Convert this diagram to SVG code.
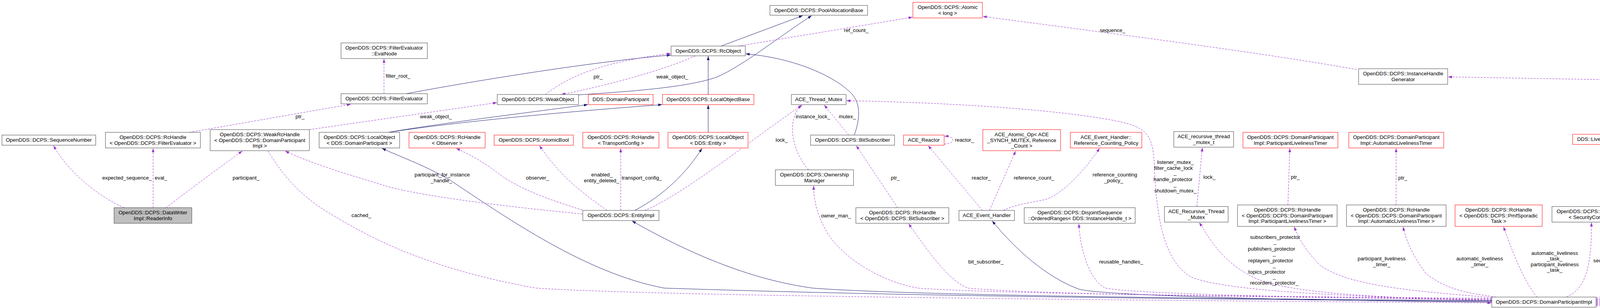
<svg xmlns="http://www.w3.org/2000/svg" width="6232" height="789" viewBox="0 0 6232 789">
<style>
text{font-family:"Liberation Sans",Arial,Helvetica,sans-serif;font-size:13.33px;fill:#000;text-anchor:middle}
.n rect{fill:#fff;stroke:#404040;stroke-width:1}
.r rect{stroke:#ff0000}
.g rect{fill:#bfbfbf}
.d{fill:none;stroke:#9a32cd;stroke-width:1;stroke-dasharray:5,3;marker-end:url(#ad)}
.s{fill:none;stroke:#191970;stroke-width:1;marker-end:url(#as)}
</style>
<defs>
<marker id="ad" viewBox="0 0 10 7" refX="10" refY="3.5" markerWidth="10" markerHeight="7" markerUnits="userSpaceOnUse" orient="auto"><path d="M0,0L10,3.5L0,7z" fill="#9a32cd"/></marker>
<marker id="as" viewBox="0 0 10 7" refX="10" refY="3.5" markerWidth="10" markerHeight="7" markerUnits="userSpaceOnUse" orient="auto"><path d="M0,0L10,3.5L0,7z" fill="#191970"/></marker>
</defs>
<rect width="6232" height="789" fill="#fff"/>
<g id="edges">
<path class="d" d="M318,532C265,510 180,450 137,373"/>
<path class="d" d="M392,532L392,380"/>
<path class="d" d="M425,532C480,490 560,430 620,387"/>
<path class="d" d="M485,339L898,267"/>
<path class="d" d="M983,240L983,151"/>
<path class="s" d="M1040,240C1200,210 1500,160 1717,141"/>
<path class="d" d="M792,332L1272,263"/>
<path class="d" d="M1396,242C1450,200 1530,160 1717,137"/>
<path class="d" d="M1780,143C1700,180 1550,220 1437,242"/>
<path class="s" d="M1481,243C1600,235 1760,225 1836,197C1900,170 2000,90 2078,40"/>
<path class="s" d="M1846,118L2055,40"/>
<path class="d" d="M1890,118L2336,44"/>
<path class="s" d="M1813,242L1813,144"/>
<path class="s" d="M1813,339L1813,269"/>
<path class="s" d="M995,339C1100,320 1300,295 1505,268"/>
<path class="s" d="M995,339C1150,315 1400,290 1695,268"/>
<path class="d" d="M1491,538C1400,510 1320,480 1270,440C1230,410 1200,395 1168,380"/>
<path class="d" d="M1554,539C1500,500 1440,460 1381,373"/>
<path class="d" d="M1589,539L1589,380"/>
<path class="s" d="M1625,539C1700,500 1760,440 1797,380"/>
<path class="d" d="M1650,539C1750,500 1960,330 2054,269"/>
<path class="d" d="M2070,435C2030,390 2010,310 2052,269"/>
<path class="d" d="M2173,346L2110,269"/>
<path class="s" d="M2187,346C2200,310 2205,270 2183,243C2150,205 2050,150 1909,138"/>
<path class="d" d="M2298,532L2192,373"/>
<path class="d" d="M2515,539L2376,373"/>
<path class="d" d="M2417,369C2446,368 2446,348 2418,349"/>
<path class="d" d="M2533,539L2600,387"/>
<path class="d" d="M2568,539C2610,520 2640,520 2680,510C2730,490 2780,430 2815,380"/>
<path class="d" d="M3064,529L3078,378"/>
<path class="d" d="M3297,525L3302,380"/>
<path class="d" d="M3574,525L3574,380"/>
<path class="d" d="M4529,539C4480,520 4420,515 4380,515C4300,515 4250,500 4200,460C4160,430 4140,400 4126,371"/>
<path class="d" d="M4530,539C4480,510 4440,460 4330,371"/>
<path class="d" d="M4553,539C4530,480 4518,420 4518,380"/>
<path class="d" d="M4387,560C4412,560 4412,535 4388,536"/>
<path class="d" d="M3473,178C3200,130 2800,80 2516,42"/>
<path class="d" d="M4086,766C4300,755 4620,750 4640,735C4670,700 4655,600 4654,480L4654,300C4650,260 4500,225 4160,205L3707,197"/>
<path class="d" d="M3819,770C3500,760 3150,750 3050,710C2980,670 2960,560 2955,420C2950,330 2930,320 2800,300C2600,270 2300,260 2167,258"/>
<path class="d" d="M3819,770C3400,760 3250,740 3190,700C3120,660 3090,600 3070,570"/>
<path class="d" d="M3819,762C3600,745 3450,730 3380,680C3340,640 3325,610 3313,581"/>
<path class="d" d="M3830,761C3750,750 3700,740 3650,700C3620,660 3600,620 3592,581"/>
<path class="d" d="M3935,761C3900,720 3870,640 3849,581"/>
<path class="d" d="M4010,761C4060,740 4075,680 4074,570"/>
<path class="d" d="M4086,763C4180,745 4230,720 4250,680C4265,640 4275,600 4280,570"/>
<path class="d" d="M4086,767C4300,755 4400,745 4420,730C4460,680 4520,610 4545,566"/>
<path class="d" d="M4086,769C4500,760 4680,750 4710,730C4740,690 4765,620 4781,566"/>
<path class="d" d="M4086,771C4600,765 4780,740 4820,720C4880,680 4950,620 4985,573"/>
<path class="d" d="M4086,773C4700,765 5050,750 5100,735C5140,720 5147,690 5147,640C5147,560 5180,490 5239,371"/>
<path class="d" d="M4086,775C4800,765 5130,750 5170,735C5220,710 5260,630 5283,564"/>
<path class="d" d="M4086,777C4900,770 5390,750 5420,738C5460,720 5490,640 5503,573"/>
<path class="d" d="M4086,779C5000,770 5560,755 5590,740C5640,710 5690,620 5717,566"/>
<path class="d" d="M4086,781C5100,772 5820,760 5840,740C5880,700 5895,640 5903,581"/>
<path class="d" d="M4086,783C5200,775 5930,765 5970,742C6030,710 6080,640 6108,573"/>
<path class="d" d="M5480,532L5272,371"/>
<path class="s" d="M3819,770C3000,765 2300,755 2080,738C1950,720 1800,670 1618,566"/>
<path class="s" d="M3819,772C3000,766 2300,758 1700,738C1500,700 1300,560 1150,460C1080,420 1020,400 978,380"/>
<path class="s" d="M3819,774C3200,768 2800,755 2760,740C2680,710 2600,640 2540,566"/>
<path class="d" d="M686,387C720,440 760,500 860,556C950,610 1100,690 1372,738C1700,760 3000,770 3818,776"/>
<path class="d" d="M1491,548C1300,530 1100,505 1000,480C900,450 800,420 730,387"/>
<path class="d" d="M3819,764C3000,758 2500,750 2350,738C2250,720 2160,660 2120,600C2090,550 2083,510 2083,476"/>
<path class="d" d="M3819,766C3000,760 2600,750 2478,738C2430,720 2380,650 2326,573"/>
<path class="d" d="M3819,768C3300,762 2900,752 2830,738C2790,720 2765,640 2762,573"/>
</g>
<g id="labels">
<text x="325" y="460">expected_sequence_</text>
<text x="412" y="460">eval_</text>
<text x="630" y="460">participant_</text>
<text x="768" y="303">ptr_</text>
<text x="1019" y="199">filter_root_</text>
<text x="925" y="556">cached_</text>
<text x="1531" y="201">ptr_</text>
<text x="1721" y="201">weak_object_</text>
<text x="1116" y="303">weak_object_</text>
<text x="1132" y="452">participant_for_instance</text>
<text x="1130" y="467">_handle_</text>
<text x="1376" y="460">observer_</text>
<text x="1541" y="452">enabled_</text>
<text x="1540" y="467">entity_deleted_</text>
<text x="1643" y="460">transport_config_</text>
<text x="2001" y="363">lock_</text>
<text x="2081" y="303">instance_lock_</text>
<text x="2169" y="303">mutex_</text>
<text x="2292" y="460">ptr_</text>
<text x="2140" y="557">owner_man_</text>
<text x="2192" y="82">ref_count_</text>
<text x="2848" y="82">sequence_</text>
<text x="2469" y="363">reactor_</text>
<text x="2512" y="460">reactor_</text>
<text x="2647" y="460">reference_count_</text>
<text x="2854" y="452">reference_counting</text>
<text x="2851" y="467">_policy_</text>
<text x="2524" y="675">bit_subscriber_</text>
<text x="2870" y="675">reusable_handles_</text>
<text x="3009" y="420">listener_mutex_</text>
<text x="3004" y="435">filter_cache_lock</text>
<text x="3008" y="447">_</text>
<text x="3003" y="464">handle_protector</text>
<text x="3008" y="477">_</text>
<text x="3009" y="493">shutdown_mutex_</text>
<text x="3096" y="458">lock_</text>
<text x="3264" y="612">subscribers_protector</text>
<text x="3264" y="624">_</text>
<text x="3255" y="642">publishers_protector</text>
<text x="3262" y="654">_</text>
<text x="3253" y="672">replayers_protector</text>
<text x="3262" y="684">_</text>
<text x="3243" y="701">topics_protector</text>
<text x="3262" y="713">_</text>
<text x="3262" y="729">recorders_protector_</text>
<text x="3316" y="458">ptr_</text>
<text x="3591" y="460">ptr_</text>
<text x="3537" y="667">participant_liveliness</text>
<text x="3537" y="682">_timer_</text>
<text x="3788" y="667">automatic_liveliness</text>
<text x="3788" y="682">_timer_</text>
<text x="3980" y="653">automatic_liveliness</text>
<text x="3980" y="667">_task_</text>
<text x="3980" y="682">participant_liveliness</text>
<text x="3980" y="696">_task_</text>
<text x="4127" y="672">security_config_</text>
<text x="4345" y="672">last_liveliness_activity_</text>
<text x="4330" y="458">liveliness</text>
<text x="4486" y="460">reliability</text>
<text x="4587" y="460">transport_priority</text>
<text x="4447" y="549">max_value</text>
<text x="4444" y="564">zero_value</text>
<text x="4719" y="363">participant_handles_</text>
<text x="4578" y="675">default_topic_qos_</text>
<text x="4786" y="675">qos_</text>
<text x="5034" y="675">type_lookup_service_</text>
<text x="5187" y="553">dp_id_</text>
<text x="5347" y="672">default_subscriber_qos_</text>
<text x="5462" y="460">base_</text>
<text x="5540" y="675">pub_id_gen_</text>
<text x="5770" y="675">default_publisher_qos_</text>
<text x="5931" y="675">monitor_</text>
<text x="6155" y="667">handle_waiters_</text>
<text x="6154" y="682">shutdown_condition_</text>
</g>
<g id="n1" class="n"><rect x="5" y="346" width="240" height="26"/><text x="125" y="363">OpenDDS::DCPS::SequenceNumber</text></g>
<g id="n2" class="n"><rect x="270" y="339" width="243" height="40"/><text x="391.5" y="356">OpenDDS::DCPS::RcHandle</text><text x="391.5" y="370.7">&lt; OpenDDS::DCPS::FilterEvaluator &gt;</text></g>
<g id="n3" class="n"><rect x="538" y="332" width="254" height="54"/><text x="665" y="349">OpenDDS::DCPS::WeakRcHandle</text><text x="665" y="363.7">&lt; OpenDDS::DCPS::DomainParticipant</text><text x="665" y="378.4">Impl &gt;</text></g>
<g id="n4" class="n"><rect x="817" y="339" width="206" height="40"/><text x="920" y="356">OpenDDS::DCPS::LocalObject</text><text x="920" y="370.7">&lt; DDS::DomainParticipant &gt;</text></g>
<g id="n5" class="n g"><rect x="292" y="532" width="199" height="40"/><text x="391.5" y="549">OpenDDS::DCPS::DataWriter</text><text x="391.5" y="563.7">Impl::ReaderInfo</text></g>
<g id="n6" class="n"><rect x="873" y="110" width="221" height="40"/><text x="983.5" y="127">OpenDDS::DCPS::FilterEvaluator</text><text x="983.5" y="141.7">::EvalNode</text></g>
<g id="n7" class="n"><rect x="873" y="240" width="221" height="26"/><text x="983.5" y="257">OpenDDS::DCPS::FilterEvaluator</text></g>
<g id="n8" class="n r"><rect x="1047" y="339" width="195" height="40"/><text x="1144.5" y="356">OpenDDS::DCPS::RcHandle</text><text x="1144.5" y="370.7">&lt; Observer &gt;</text></g>
<g id="n9" class="n"><rect x="1971" y="14" width="250" height="25"/><text x="2096" y="31">OpenDDS::DCPS::PoolAllocationBase</text></g>
<g id="n10" class="n"><rect x="1718" y="118" width="190" height="25"/><text x="1813" y="135">OpenDDS::DCPS::RcObject</text></g>
<g id="n11" class="n"><rect x="1273" y="242" width="208" height="26"/><text x="1377" y="259">OpenDDS::DCPS::WeakObject</text></g>
<g id="n12" class="n r"><rect x="1506" y="242" width="166" height="26"/><text x="1589" y="259">DDS::DomainParticipant</text></g>
<g id="n13" class="n r"><rect x="1696" y="242" width="234" height="26"/><text x="1813" y="259">OpenDDS::DCPS::LocalObjectBase</text></g>
<g id="n14" class="n r"><rect x="1265" y="346" width="203" height="26"/><text x="1366.5" y="363">OpenDDS::DCPS::AtomicBool</text></g>
<g id="n15" class="n r"><rect x="1492" y="339" width="195" height="40"/><text x="1589.5" y="356">OpenDDS::DCPS::RcHandle</text><text x="1589.5" y="370.7">&lt; TransportConfig &gt;</text></g>
<g id="n16" class="n r"><rect x="1710" y="339" width="205" height="40"/><text x="1812.5" y="356">OpenDDS::DCPS::LocalObject</text><text x="1812.5" y="370.7">&lt; DDS::Entity &gt;</text></g>
<g id="n17" class="n"><rect x="1492" y="539" width="195" height="26"/><text x="1589.5" y="556">OpenDDS::DCPS::EntityImpl</text></g>
<g id="n18" class="n"><rect x="2026" y="242" width="140" height="26"/><text x="2096" y="259">ACE_Thread_Mutex</text></g>
<g id="n19" class="n"><rect x="2075" y="346" width="215" height="26"/><text x="2182.5" y="363">OpenDDS::DCPS::BitSubscriber</text></g>
<g id="n20" class="n"><rect x="1985" y="435" width="200" height="40"/><text x="2085" y="452">OpenDDS::DCPS::Ownership</text><text x="2085" y="466.7">Manager</text></g>
<g id="n21" class="n"><rect x="2191" y="532" width="238" height="40"/><text x="2310" y="549">OpenDDS::DCPS::RcHandle</text><text x="2310" y="563.7">&lt; OpenDDS::DCPS::BitSubscriber &gt;</text></g>
<g id="n22" class="n r"><rect x="2337" y="6" width="178" height="40"/><text x="2426" y="23">OpenDDS::DCPS::Atomic</text><text x="2426" y="37.7">&lt; long &gt;</text></g>
<g id="n23" class="n r"><rect x="2313" y="346" width="104" height="26"/><text x="2365" y="363">ACE_Reactor</text></g>
<g id="n24" class="n r"><rect x="2516" y="332" width="199" height="54"/><text x="2615.5" y="349">ACE_Atomic_Op&lt; ACE</text><text x="2615.5" y="363.7">_SYNCH_MUTEX, Reference</text><text x="2615.5" y="378.4">_Count &gt;</text></g>
<g id="n25" class="n r"><rect x="2740" y="339" width="183" height="40"/><text x="2831.5" y="356">ACE_Event_Handler::</text><text x="2831.5" y="370.7">Reference_Counting_Policy</text></g>
<g id="n26" class="n"><rect x="2455" y="539" width="142" height="26"/><text x="2526" y="556">ACE_Event_Handler</text></g>
<g id="n27" class="n"><rect x="2622" y="532" width="284" height="40"/><text x="2764" y="549">OpenDDS::DCPS::DisjointSequence</text><text x="2764" y="563.7">::OrderedRanges&lt; DDS::InstanceHandle_t &gt;</text></g>
<g id="n28" class="n"><rect x="3005" y="337" width="153" height="40"/><text x="3081.5" y="354">ACE_recursive_thread</text><text x="3081.5" y="368.7">_mutex_t</text></g>
<g id="n29" class="n"><rect x="2981" y="529" width="163" height="40"/><text x="3062.5" y="546">ACE_Recursive_Thread</text><text x="3062.5" y="560.7">_Mutex</text></g>
<g id="n30" class="n r"><rect x="3182" y="339" width="243" height="40"/><text x="3303.5" y="356">OpenDDS::DCPS::DomainParticipant</text><text x="3303.5" y="370.7">Impl::ParticipantLivelinessTimer</text></g>
<g id="n31" class="n"><rect x="3168" y="525" width="255" height="55"/><text x="3295.5" y="542">OpenDDS::DCPS::RcHandle</text><text x="3295.5" y="556.7">&lt; OpenDDS::DCPS::DomainParticipant</text><text x="3295.5" y="571.4">Impl::ParticipantLivelinessTimer &gt;</text></g>
<g id="n32" class="n r"><rect x="3453" y="339" width="243" height="40"/><text x="3574.5" y="356">OpenDDS::DCPS::DomainParticipant</text><text x="3574.5" y="370.7">Impl::AutomaticLivelinessTimer</text></g>
<g id="n33" class="n"><rect x="3447" y="525" width="255" height="55"/><text x="3574.5" y="542">OpenDDS::DCPS::RcHandle</text><text x="3574.5" y="556.7">&lt; OpenDDS::DCPS::DomainParticipant</text><text x="3574.5" y="571.4">Impl::AutomaticLivelinessTimer &gt;</text></g>
<g id="n34" class="n r"><rect x="3725" y="525" width="223" height="55"/><text x="3836.5" y="542">OpenDDS::DCPS::RcHandle</text><text x="3836.5" y="556.7">&lt; OpenDDS::DCPS::PmfSporadic</text><text x="3836.5" y="571.4">Task &gt;</text></g>
<g id="n35" class="n"><rect x="3973" y="529" width="195" height="40"/><text x="4070.5" y="546">OpenDDS::DCPS::RcHandle</text><text x="4070.5" y="560.7">&lt; SecurityConfig &gt;</text></g>
<g id="n36" class="n"><rect x="3819" y="761" width="267" height="26"/><text x="3952.5" y="778">OpenDDS::DCPS::DomainParticipantImpl</text></g>
<g id="n37" class="n"><rect x="3478" y="176" width="228" height="40"/><text x="3592" y="193">OpenDDS::DCPS::InstanceHandle</text><text x="3592" y="207.7">Generator</text></g>
<g id="n38" class="n r"><rect x="4026" y="344" width="177" height="26"/><text x="4114.5" y="361">DDS::LivelinessQosPolicy</text></g>
<g id="n39" class="n r"><rect x="4228" y="344" width="176" height="26"/><text x="4316" y="361">DDS::ReliabilityQosPolicy</text></g>
<g id="n40" class="n"><rect x="4428" y="339" width="178" height="40"/><text x="4517" y="356">DDS::TransportPriorityQos</text><text x="4517" y="370.7">Policy</text></g>
<g id="n41" class="n r"><rect x="4192" y="529" width="195" height="40"/><text x="4289.5" y="546">OpenDDS::DCPS::TimePoint</text><text x="4289.5" y="560.7">_T&lt; MonotonicClock &gt;</text></g>
<g id="n42" class="n r"><rect x="4503" y="539" width="115" height="26"/><text x="4560.5" y="556">DDS::TopicQos</text></g>
<g id="n43" class="n r"><rect x="4692" y="539" width="191" height="26"/><text x="4787.5" y="556">DDS::DomainParticipantQos</text></g>
<g id="n44" class="n"><rect x="4907" y="532" width="195" height="40"/><text x="5004.5" y="549">OpenDDS::DCPS::RcHandle</text><text x="5004.5" y="563.7">&lt; TypeLookupService &gt;</text></g>
<g id="n45" class="n r"><rect x="5161" y="344" width="182" height="26"/><text x="5252" y="361">OpenDDS::DCPS::GUID_t</text></g>
<g id="n46" class="n r"><rect x="5218" y="537" width="145" height="26"/><text x="5290.5" y="554">DDS::SubscriberQos</text></g>
<g id="n47" class="n r"><rect x="5388" y="532" width="243" height="40"/><text x="5509.5" y="549">OpenDDS::DCPS::DomainParticipant</text><text x="5509.5" y="563.7">Impl::RepoIdSequence</text></g>
<g id="n48" class="n r"><rect x="5655" y="539" width="138" height="26"/><text x="5724" y="556">DDS::PublisherQos</text></g>
<g id="n49" class="n r"><rect x="5816" y="525" width="175" height="55"/><text x="5903.5" y="542">OpenDDS::DCPS::unique</text><text x="5903.5" y="556.7">_ptr&lt; OpenDDS::DCPS::</text><text x="5903.5" y="571.4">Monitor &gt;</text></g>
<g id="n50" class="n r"><rect x="6016" y="532" width="210" height="40"/><text x="6121" y="549">OpenDDS::DCPS::Condition</text><text x="6121" y="563.7">Variable&lt; ACE_Thread_Mutex &gt;</text></g>
</svg>
